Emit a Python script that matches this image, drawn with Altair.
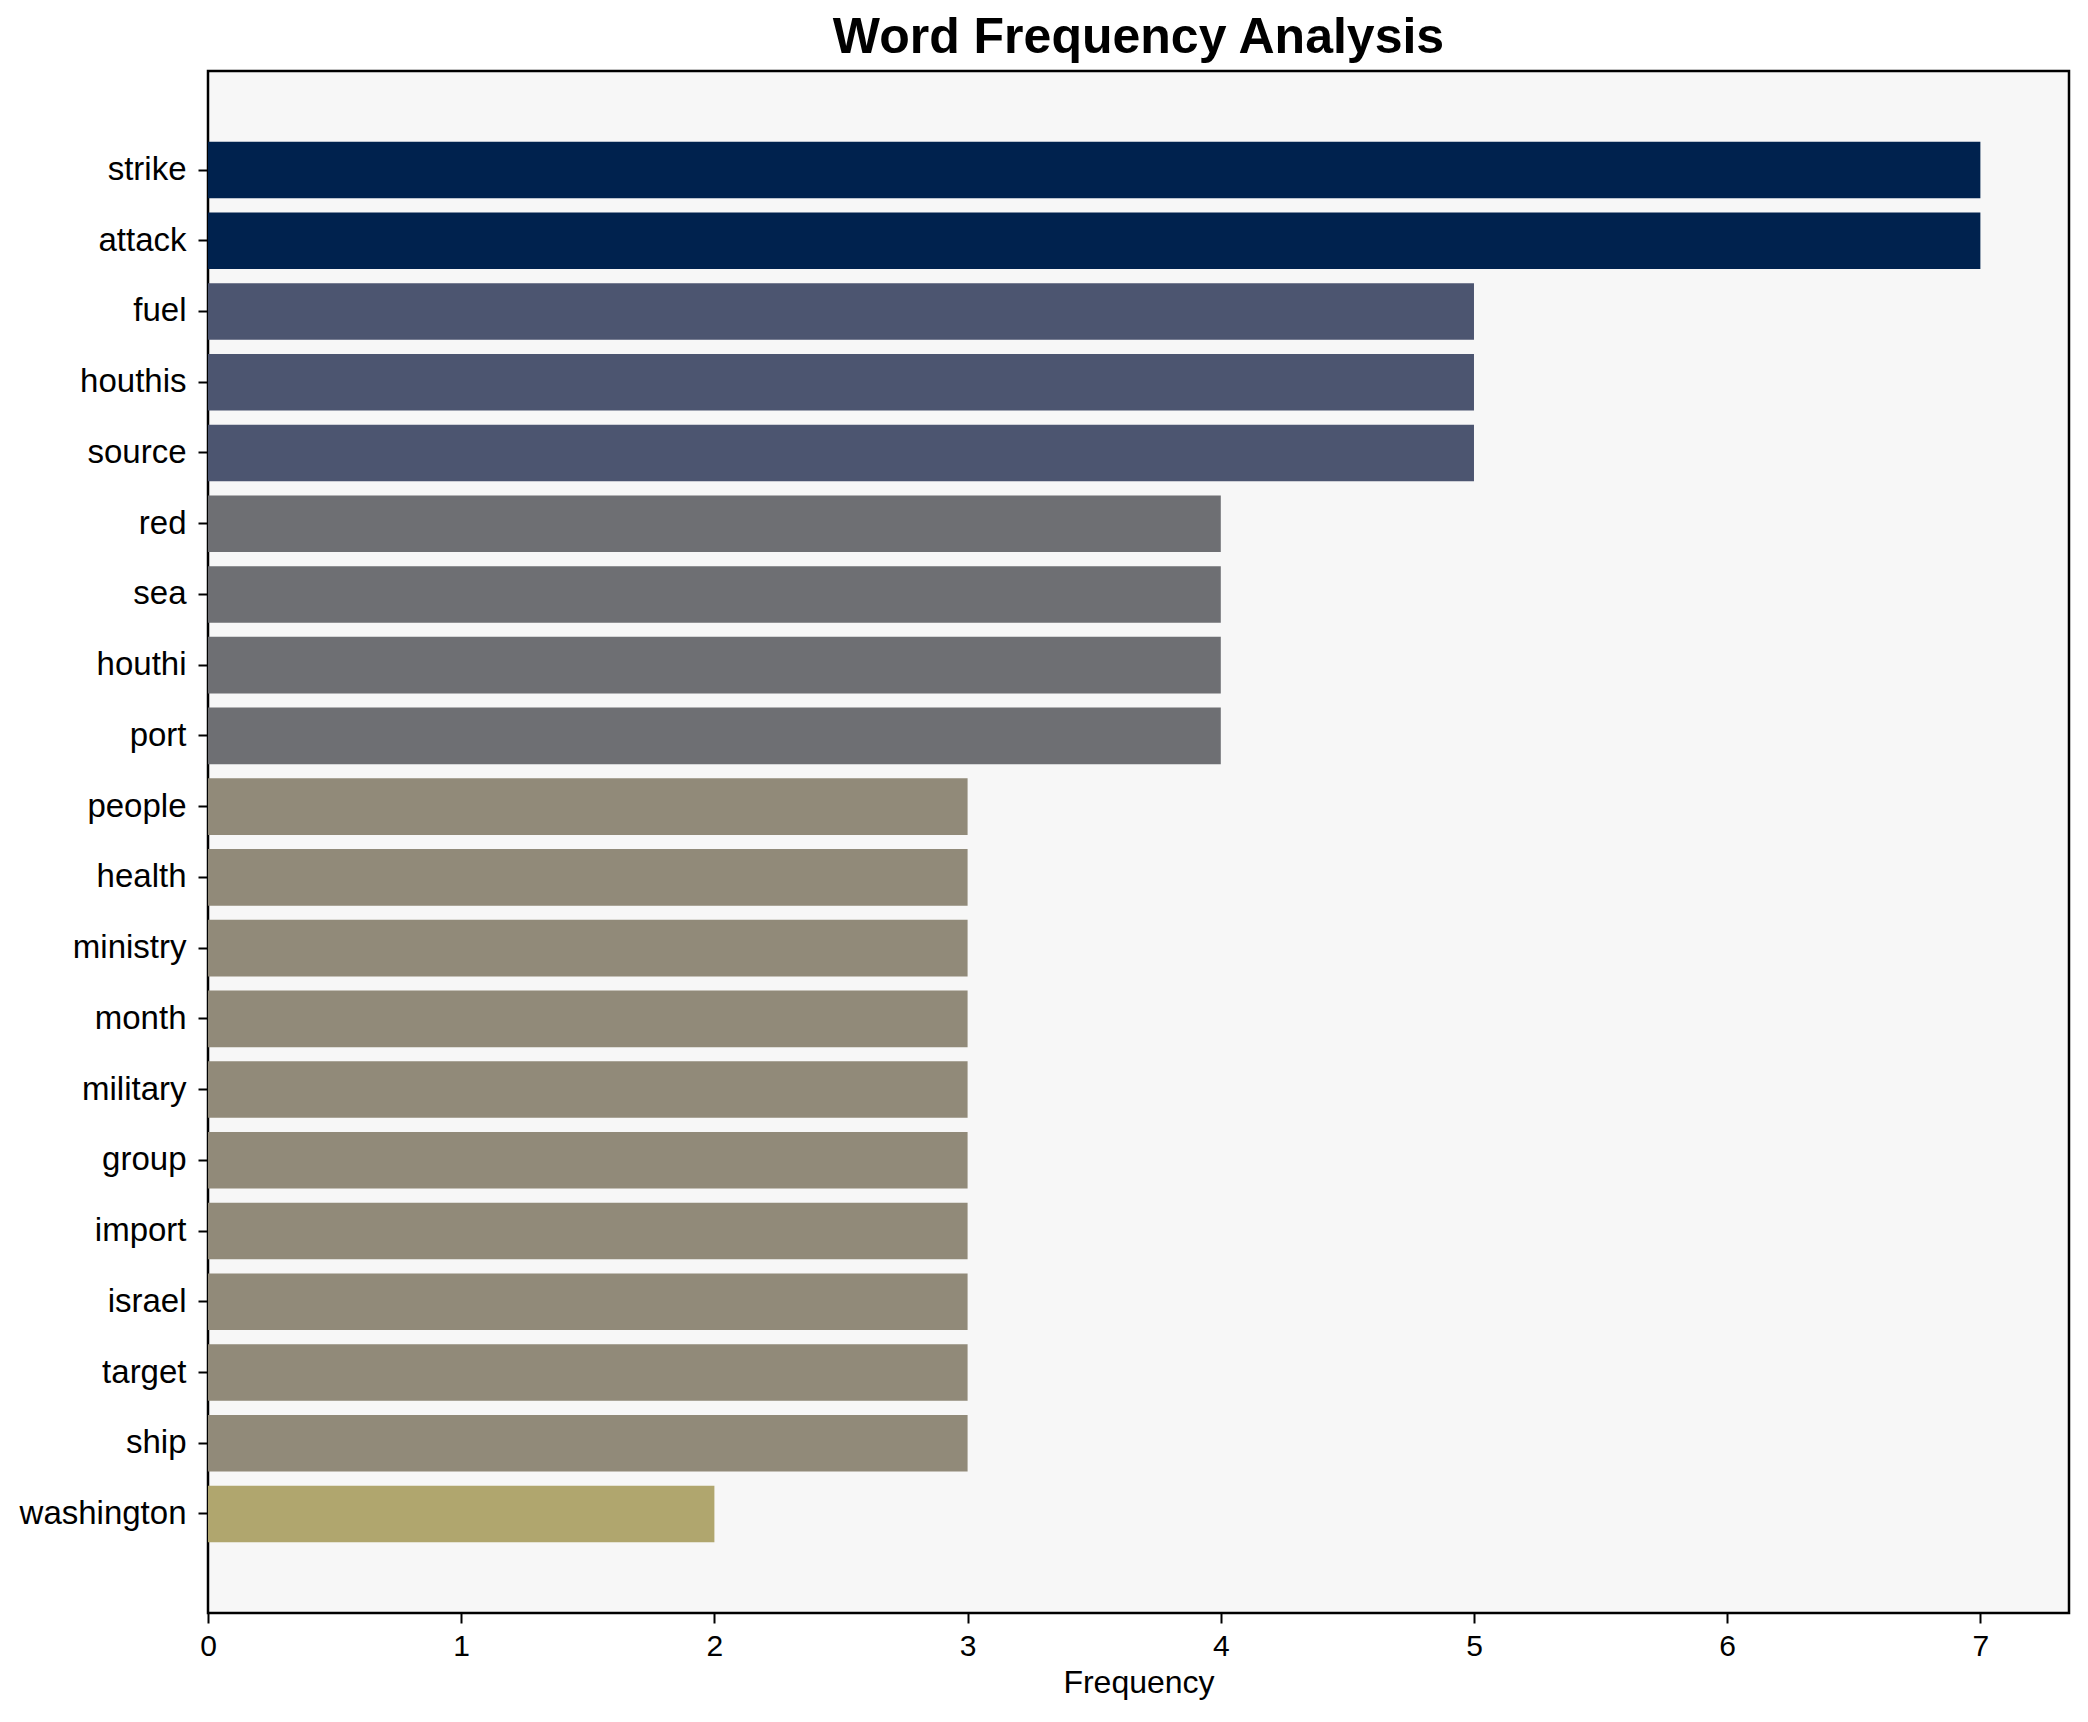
import altair as alt
import pandas as pd

words = ["strike", "attack", "fuel", "houthis", "source", "red", "sea", "houthi", "port",
         "people", "health", "ministry", "month", "military", "group", "import", "israel",
         "target", "ship", "washington"]
counts = [7, 7, 5, 5, 5, 4, 4, 4, 4, 3, 3, 3, 3, 3, 3, 3, 3, 3, 3, 2]
color_levels = [7, 5, 4, 3, 2]
color_values = ["#00224e", "#4c5570", "#6e6f73", "#918a79", "#b0a66e"]
x_ticks = [0, 1, 2, 3, 4, 5, 6, 7]

df = pd.DataFrame({"word": words, "count": counts})

FONT = "Liberation Sans"

chart = alt.Chart(df).mark_bar().encode(
    y=alt.Y("word:N", sort=words, title=None,
            scale=alt.Scale(paddingInner=0.2, paddingOuter=1.0),
            axis=alt.Axis(labelFont=FONT, labelFontSize=33, labelColor="black",
                          tickSize=10, tickWidth=2, tickColor="black",
                          labelPadding=12, domain=False, grid=False)),
    x=alt.X("count:Q", title="Frequency",
            scale=alt.Scale(domain=[0, 7.35], nice=False, zero=True),
            axis=alt.Axis(values=x_ticks, format="d", labelFont=FONT, labelFontSize=30,
                          labelColor="black", tickSize=10, tickWidth=2, tickColor="black",
                          labelPadding=8, labelFlush=False, domain=False, grid=False,
                          titleFont=FONT, titleFontSize=32, titleFontWeight="normal",
                          titleColor="black", titlePadding=6)),
    color=alt.Color("count:O", scale=alt.Scale(domain=color_levels, range=color_values),
                    legend=None),
).properties(
    width=1861,
    height=1542,
    background="white",
    title=alt.TitleParams("Word Frequency Analysis", font=FONT, fontSize=50,
                          fontWeight="bold", color="black", anchor="middle", offset=8),
    autosize=alt.AutoSizeParams(type="none"),
    padding={"left": 200, "top": 63, "right": 11, "bottom": 100},
).configure_view(
    fill="#f7f7f7", stroke="black", strokeWidth=2.5
)

chart.save("out.html", embed_options={"renderer": "svg", "actions": False})
